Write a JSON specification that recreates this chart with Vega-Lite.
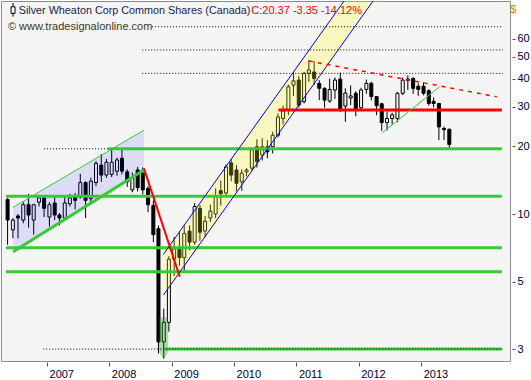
{
  "$schema": "https://vega.github.io/schema/vega-lite/v6.json",
  "width": 509,
  "height": 360,
  "autosize": {"type": "none"},
  "padding": {"left": 1, "top": 1, "right": 21, "bottom": 19},
  "background": "#ffffff",
  "config": {"view": {"fill": "#f5f5f5", "stroke": "#8c8c8c", "strokeWidth": 1}},
  "datasets": {
    "candles": [
      {"d":"2006-05-15","o":11.6,"h":11.8,"l":7.3,"c":9.4},
      {"d":"2006-06-15","o":8.5,"h":9.6,"l":7.8,"c":9.4},
      {"d":"2006-07-15","o":9.8,"h":10.0,"l":7.8,"c":9.6},
      {"d":"2006-08-15","o":9.4,"h":11.3,"l":9.1,"c":11.0},
      {"d":"2006-09-15","o":11.0,"h":12.3,"l":8.7,"c":9.9},
      {"d":"2006-10-15","o":9.4,"h":11.1,"l":8.1,"c":11.0},
      {"d":"2006-11-15","o":11.3,"h":12.0,"l":10.8,"c":11.8},
      {"d":"2006-12-15","o":11.8,"h":11.9,"l":9.7,"c":10.6},
      {"d":"2007-01-15","o":9.7,"h":11.3,"l":8.8,"c":11.0},
      {"d":"2007-02-15","o":11.2,"h":11.9,"l":9.4,"c":9.9},
      {"d":"2007-03-15","o":9.9,"h":10.1,"l":8.9,"c":9.6},
      {"d":"2007-04-15","o":9.6,"h":11.9,"l":9.4,"c":11.2},
      {"d":"2007-05-15","o":11.1,"h":12.3,"l":10.8,"c":11.8},
      {"d":"2007-06-15","o":12.0,"h":12.4,"l":10.5,"c":11.5},
      {"d":"2007-07-15","o":11.9,"h":15.1,"l":11.7,"c":13.8},
      {"d":"2007-08-15","o":13.8,"h":14.0,"l":9.6,"c":11.5},
      {"d":"2007-09-15","o":11.7,"h":14.5,"l":11.2,"c":14.0},
      {"d":"2007-10-15","o":13.8,"h":17.2,"l":13.3,"c":16.8},
      {"d":"2007-11-15","o":16.5,"h":18.5,"l":13.9,"c":14.9},
      {"d":"2007-12-15","o":14.9,"h":17.6,"l":14.5,"c":17.0},
      {"d":"2008-01-15","o":15.0,"h":19.3,"l":14.6,"c":17.0},
      {"d":"2008-02-15","o":15.5,"h":17.8,"l":14.8,"c":17.4},
      {"d":"2008-03-15","o":17.7,"h":19.6,"l":15.0,"c":15.5},
      {"d":"2008-04-15","o":15.4,"h":15.8,"l":13.2,"c":13.9},
      {"d":"2008-05-15","o":12.8,"h":15.3,"l":12.5,"c":14.5},
      {"d":"2008-06-15","o":15.7,"h":16.2,"l":12.6,"c":13.1},
      {"d":"2008-07-15","o":15.2,"h":16.1,"l":12.2,"c":12.8},
      {"d":"2008-08-15","o":13.0,"h":13.3,"l":10.2,"c":11.0},
      {"d":"2008-09-15","o":10.9,"h":11.5,"l":7.5,"c":8.1},
      {"d":"2008-10-15","o":8.6,"h":8.9,"l":2.4,"c":2.7},
      {"d":"2008-11-15","o":2.7,"h":3.8,"l":2.28,"c":3.3},
      {"d":"2008-12-15","o":3.3,"h":6.5,"l":3.0,"c":6.3},
      {"d":"2009-01-15","o":6.3,"h":7.9,"l":5.3,"c":7.0},
      {"d":"2009-02-15","o":7.0,"h":8.3,"l":5.9,"c":6.4},
      {"d":"2009-03-15","o":6.4,"h":8.9,"l":5.6,"c":8.2},
      {"d":"2009-04-15","o":8.4,"h":8.9,"l":6.9,"c":7.5},
      {"d":"2009-05-15","o":7.5,"h":11.2,"l":7.3,"c":10.8},
      {"d":"2009-06-15","o":10.6,"h":11.0,"l":7.6,"c":8.3},
      {"d":"2009-07-15","o":8.4,"h":9.8,"l":7.9,"c":9.3},
      {"d":"2009-08-15","o":9.6,"h":11.0,"l":9.2,"c":10.3},
      {"d":"2009-09-15","o":10.0,"h":13.0,"l":9.6,"c":12.0},
      {"d":"2009-10-15","o":12.7,"h":14.1,"l":10.9,"c":12.3},
      {"d":"2009-11-15","o":12.4,"h":16.6,"l":12.0,"c":16.2},
      {"d":"2009-12-15","o":16.9,"h":17.6,"l":14.0,"c":14.9},
      {"d":"2010-01-15","o":15.7,"h":16.5,"l":12.6,"c":13.7},
      {"d":"2010-02-15","o":13.9,"h":15.8,"l":12.7,"c":15.2},
      {"d":"2010-03-15","o":15.4,"h":16.0,"l":14.7,"c":15.7},
      {"d":"2010-04-15","o":16.0,"h":19.8,"l":15.6,"c":19.3},
      {"d":"2010-05-15","o":19.9,"h":21.5,"l":16.1,"c":17.1},
      {"d":"2010-06-15","o":18.3,"h":21.7,"l":17.3,"c":19.9},
      {"d":"2010-07-15","o":19.9,"h":21.3,"l":17.7,"c":18.9},
      {"d":"2010-08-15","o":19.9,"h":23.2,"l":18.6,"c":22.4},
      {"d":"2010-09-15","o":22.4,"h":28.0,"l":21.9,"c":27.0},
      {"d":"2010-10-15","o":26.6,"h":30.3,"l":25.0,"c":28.7},
      {"d":"2010-11-15","o":29.0,"h":37.6,"l":27.5,"c":36.8},
      {"d":"2010-12-15","o":37.4,"h":42.8,"l":33.5,"c":39.1},
      {"d":"2011-01-15","o":39.4,"h":41.0,"l":29.8,"c":30.5},
      {"d":"2011-02-15","o":31.6,"h":42.8,"l":31.0,"c":42.2},
      {"d":"2011-03-15","o":42.2,"h":48.4,"l":38.7,"c":43.7},
      {"d":"2011-04-15","o":42.8,"h":47.9,"l":37.5,"c":40.0},
      {"d":"2011-05-15","o":38.1,"h":39.4,"l":32.1,"c":36.2},
      {"d":"2011-06-15","o":36.2,"h":36.6,"l":29.7,"c":32.1},
      {"d":"2011-07-15","o":31.8,"h":40.0,"l":31.2,"c":35.8},
      {"d":"2011-08-15","o":35.6,"h":40.5,"l":32.5,"c":39.4},
      {"d":"2011-09-15","o":39.8,"h":42.5,"l":28.4,"c":29.0},
      {"d":"2011-10-15","o":30.2,"h":36.2,"l":25.7,"c":34.5},
      {"d":"2011-11-15","o":32.8,"h":37.3,"l":30.5,"c":33.5},
      {"d":"2011-12-15","o":34.4,"h":35.2,"l":27.2,"c":29.0},
      {"d":"2012-01-15","o":29.7,"h":36.4,"l":29.2,"c":35.6},
      {"d":"2012-02-15","o":35.8,"h":39.6,"l":34.2,"c":38.1},
      {"d":"2012-03-15","o":38.1,"h":38.8,"l":32.0,"c":33.3},
      {"d":"2012-04-15","o":33.3,"h":33.5,"l":27.5,"c":30.3},
      {"d":"2012-05-15","o":30.9,"h":31.2,"l":23.4,"c":25.5},
      {"d":"2012-06-15","o":25.5,"h":28.6,"l":23.5,"c":26.6},
      {"d":"2012-07-15","o":26.6,"h":28.2,"l":25.0,"c":27.6},
      {"d":"2012-08-15","o":26.6,"h":34.9,"l":25.6,"c":34.4},
      {"d":"2012-09-15","o":34.4,"h":40.4,"l":33.8,"c":39.4},
      {"d":"2012-10-15","o":39.8,"h":41.3,"l":35.6,"c":39.3},
      {"d":"2012-11-15","o":40.0,"h":40.7,"l":34.2,"c":36.2},
      {"d":"2012-12-15","o":37.0,"h":38.1,"l":33.5,"c":35.8},
      {"d":"2013-01-15","o":37.0,"h":38.5,"l":33.7,"c":34.4},
      {"d":"2013-02-15","o":35.3,"h":35.9,"l":30.3,"c":31.0},
      {"d":"2013-03-15","o":31.7,"h":33.0,"l":29.8,"c":31.0},
      {"d":"2013-04-15","o":31.0,"h":31.2,"l":21.3,"c":24.4},
      {"d":"2013-05-15","o":24.0,"h":24.5,"l":21.3,"c":23.72},
      {"d":"2013-06-15","o":23.8,"h":24.0,"l":19.6,"c":20.37}
    ],
    "greenLevels": [
      {"d":"2007-12-24","d2":"2014-04-19","p":19.5},
      {"d":"2006-05-06","d2":"2014-04-19","p":12.0},
      {"d":"2006-05-06","d2":"2014-04-19","p":7.08},
      {"d":"2006-05-06","d2":"2014-04-19","p":5.54},
      {"d":"2008-11-21","d2":"2014-04-19","p":2.51}
    ],
    "redLevels": [{"d":"2010-09-18","d2":"2014-04-19","p":29.0}],
    "dottedLevels": [
      {"d":"2008-09-08","d2":"2014-04-25","p":68.0},
      {"d":"2008-07-12","d2":"2014-04-25","p":53.6},
      {"d":"2008-07-12","d2":"2014-04-25","p":42.2},
      {"d":"2006-12-15","d2":"2007-12-24","p":19.5},
      {"d":"2006-12-10","d2":"2014-04-25","p":2.51}
    ],
    "blueChannel": [
      {"d":"2006-06-16","u":10.71,"lo":6.8},
      {"d":"2008-07-22","u":23.6,"lo":15.68}
    ],
    "blueChannelTop": [{"d":"2006-06-16","p":10.71,"d2":"2008-07-22","p2":23.6}],
    "blueChannelBottom": [{"d":"2006-06-16","p":6.8,"d2":"2008-07-22","p2":15.68}],
    "yellowChannel": [
      {"d":"2008-11-13","u":6.62,"lo":4.365},
      {"d":"2012-04-20","u":142.9,"lo":94.3}
    ],
    "yellowChannelLines": [
      {"d":"2008-11-13","p":6.62,"d2":"2012-04-20","p2":142.9},
      {"d":"2008-11-13","p":4.365,"d2":"2012-04-20","p2":94.3}
    ],
    "crashLine": [{"d":"2008-07-22","p":15.96,"d2":"2009-02-17","p2":5.26}],
    "downTrend": [{"d":"2011-03-15","p":47.9,"d2":"2014-03-20","p2":33.2}],
    "upTrend2012": [{"d":"2012-05-19","p":22.96,"d2":"2013-04-19","p2":36.8}],
    "lowMarker": [
      {"d":"2008-10-22","u":3.45,"lo":2.44},
      {"d":"2008-11-15","u":3.45,"lo":2.27},
      {"d":"2008-12-08","u":3.45,"lo":2.44}
    ]
  },
  "layer": [
    {
      "data": {"name": "candles"},
      "mark": {"type": "rule", "color": "#000000", "strokeWidth": 1},
      "encoding": {
        "x": {
          "field": "d", "type": "temporal", "title": null,
          "scale": {"type": "utc", "domain": [
            {"year": 2006, "month": 5, "date": 5, "hours": 18, "utc": true},
            {"year": 2014, "month": 5, "date": 7, "hours": 5, "utc": true}
          ]},
          "axis": {
            "values": [
              {"year": 2007, "month": 1, "date": 1, "utc": true},
              {"year": 2008, "month": 1, "date": 1, "utc": true},
              {"year": 2009, "month": 1, "date": 1, "utc": true},
              {"year": 2010, "month": 1, "date": 1, "utc": true},
              {"year": 2011, "month": 1, "date": 1, "utc": true},
              {"year": 2012, "month": 1, "date": 1, "utc": true},
              {"year": 2013, "month": 1, "date": 1, "utc": true}
            ],
            "labelExpr": "utcFormat(datum.value, '%Y')",
            "domain": false, "grid": false,
            "tickSize": 4, "tickColor": "#555555", "offset": 1,
            "labelAlign": "left", "labelBaseline": "top", "labelPadding": 2, "labelOffset": 2,
            "labelFont": "Liberation Sans", "labelFontSize": 11, "labelColor": "#000033",
            "labelFlush": false, "labelOverlap": false
          }
        },
        "y": {
          "field": "l", "type": "quantitative", "title": null,
          "scale": {"type": "log", "domain": [2.222, 88.5], "nice": false, "zero": false},
          "axis": {
            "orient": "right",
            "values": [2.5, 5, 10, 20, 30, 40, 50, 60],
            "labelExpr": "datum.value < 3 ? '3' : format(datum.value, 'd')",
            "domain": false, "grid": false,
            "tickSize": 3, "tickColor": "#555555", "offset": 2, "labelPadding": 2,
            "labelFont": "Liberation Sans", "labelFontSize": 11, "labelColor": "#000033",
            "labelBaseline": "middle", "labelFlush": false, "labelOverlap": false
          }
        },
        "y2": {"field": "h"}
      }
    },
    {
      "data": {"name": "candles"},
      "mark": {"type": "bar", "width": 3, "stroke": "#000000", "strokeWidth": 1},
      "encoding": {
        "x": {"field": "d", "type": "temporal", "title": null},
        "y": {"field": "o", "type": "quantitative", "title": null},
        "y2": {"field": "c"},
        "fill": {"condition": {"test": "datum.c >= datum.o", "value": "#f5f5f5"}, "value": "#000000"}
      }
    },
    {
      "data": {"name": "blueChannel"},
      "mark": {"type": "area", "color": "#0000ff", "opacity": 0.1, "clip": true},
      "encoding": {
        "x": {"field": "d", "type": "temporal", "title": null},
        "y": {"field": "u", "type": "quantitative", "title": null},
        "y2": {"field": "lo"}
      }
    },
    {
      "data": {"name": "yellowChannel"},
      "mark": {"type": "area", "color": "#ffff00", "opacity": 0.22, "clip": true},
      "encoding": {
        "x": {"field": "d", "type": "temporal", "title": null},
        "y": {"field": "u", "type": "quantitative", "title": null},
        "y2": {"field": "lo"}
      }
    },
    {
      "data": {"name": "lowMarker"},
      "mark": {"type": "area", "color": "#00a000", "opacity": 0.3, "stroke": "#2e7d2e", "strokeWidth": 1},
      "encoding": {
        "x": {"field": "d", "type": "temporal", "title": null},
        "y": {"field": "u", "type": "quantitative", "title": null},
        "y2": {"field": "lo"}
      }
    },
    {
      "data": {"name": "greenLevels"},
      "mark": {"type": "rule", "color": "#33cc33", "strokeWidth": 3},
      "encoding": {
        "x": {"field": "d", "type": "temporal", "title": null},
        "x2": {"field": "d2"},
        "y": {"field": "p", "type": "quantitative", "title": null}
      }
    },
    {
      "data": {"name": "redLevels"},
      "mark": {"type": "rule", "color": "#ff0000", "strokeWidth": 3},
      "encoding": {
        "x": {"field": "d", "type": "temporal", "title": null},
        "x2": {"field": "d2"},
        "y": {"field": "p", "type": "quantitative", "title": null}
      }
    },
    {
      "data": {"name": "dottedLevels"},
      "mark": {"type": "rule", "color": "#000000", "strokeWidth": 1, "strokeDash": [1, 2]},
      "encoding": {
        "x": {"field": "d", "type": "temporal", "title": null},
        "x2": {"field": "d2"},
        "y": {"field": "p", "type": "quantitative", "title": null}
      }
    },
    {
      "data": {"name": "blueChannelTop"},
      "mark": {"type": "rule", "color": "#33cc33", "strokeWidth": 1},
      "encoding": {
        "x": {"field": "d", "type": "temporal", "title": null},
        "x2": {"field": "d2"},
        "y": {"field": "p", "type": "quantitative", "title": null},
        "y2": {"field": "p2"}
      }
    },
    {
      "data": {"name": "blueChannelBottom"},
      "mark": {"type": "rule", "color": "#33cc33", "strokeWidth": 3},
      "encoding": {
        "x": {"field": "d", "type": "temporal", "title": null},
        "x2": {"field": "d2"},
        "y": {"field": "p", "type": "quantitative", "title": null},
        "y2": {"field": "p2"}
      }
    },
    {
      "data": {"name": "yellowChannelLines"},
      "mark": {"type": "rule", "color": "#0000ff", "strokeWidth": 1, "clip": true},
      "encoding": {
        "x": {"field": "d", "type": "temporal", "title": null},
        "x2": {"field": "d2"},
        "y": {"field": "p", "type": "quantitative", "title": null},
        "y2": {"field": "p2"}
      }
    },
    {
      "data": {"name": "crashLine"},
      "mark": {"type": "rule", "color": "#ff0000", "strokeWidth": 2},
      "encoding": {
        "x": {"field": "d", "type": "temporal", "title": null},
        "x2": {"field": "d2"},
        "y": {"field": "p", "type": "quantitative", "title": null},
        "y2": {"field": "p2"}
      }
    },
    {
      "data": {"name": "downTrend"},
      "mark": {"type": "rule", "color": "#ff0000", "strokeWidth": 1.5, "strokeDash": [4, 5]},
      "encoding": {
        "x": {"field": "d", "type": "temporal", "title": null},
        "x2": {"field": "d2"},
        "y": {"field": "p", "type": "quantitative", "title": null},
        "y2": {"field": "p2"}
      }
    },
    {
      "data": {"name": "upTrend2012"},
      "mark": {"type": "rule", "color": "#33cc33", "strokeWidth": 1},
      "encoding": {
        "x": {"field": "d", "type": "temporal", "title": null},
        "x2": {"field": "d2"},
        "y": {"field": "p", "type": "quantitative", "title": null},
        "y2": {"field": "p2"}
      }
    },
    {
      "data": {"values": [{}]},
      "mark": {"type": "rule", "color": "#000000", "strokeWidth": 1},
      "encoding": {
        "x": {"datum": {"year": 2006, "month": 6, "date": 16, "utc": true}, "type": "temporal", "title": null},
        "y": {"datum": 86.7, "type": "quantitative", "title": null},
        "y2": {"datum": 75.4}
      }
    },
    {
      "data": {"values": [{}]},
      "mark": {"type": "bar", "width": 4, "fill": "#ffffff", "stroke": "#000000", "strokeWidth": 1},
      "encoding": {
        "x": {"datum": {"year": 2006, "month": 6, "date": 16, "utc": true}, "type": "temporal", "title": null},
        "y": {"datum": 83.4, "type": "quantitative", "title": null},
        "y2": {"datum": 78.0}
      }
    },
    {
      "data": {"values": [{"t": "Silver Wheaton Corp Common Shares (Canada)"}]},
      "mark": {"type": "text", "align": "left", "baseline": "alphabetic", "font": "Liberation Sans", "fontSize": 10.8, "color": "#1a1a50"},
      "encoding": {
        "x": {"datum": {"year": 2006, "month": 7, "date": 19, "utc": true}, "type": "temporal", "title": null},
        "y": {"datum": 77.4, "type": "quantitative", "title": null},
        "text": {"field": "t"}
      }
    },
    {
      "data": {"values": [{"t": "C:20.37 -3.35 -14.12%"}]},
      "mark": {"type": "text", "align": "left", "baseline": "alphabetic", "font": "Liberation Sans", "fontSize": 11, "color": "#ff0000"},
      "encoding": {
        "x": {"datum": {"year": 2010, "month": 4, "date": 12, "utc": true}, "type": "temporal", "title": null},
        "y": {"datum": 77.4, "type": "quantitative", "title": null},
        "text": {"field": "t"}
      }
    },
    {
      "data": {"values": [{"t": "© www.tradesignalonline.com"}]},
      "mark": {"type": "text", "align": "left", "baseline": "alphabetic", "font": "Liberation Sans", "fontSize": 11, "color": "#3a3a20"},
      "encoding": {
        "x": {"datum": {"year": 2006, "month": 5, "date": 17, "utc": true}, "type": "temporal", "title": null},
        "y": {"datum": 66.1, "type": "quantitative", "title": null},
        "text": {"field": "t"}
      }
    },
    {
      "data": {"values": [{"t": "$"}]},
      "mark": {"type": "text", "align": "center", "baseline": "middle", "font": "Liberation Sans", "fontSize": 11, "color": "#cc8800"},
      "encoding": {
        "x": {"datum": {"year": 2014, "month": 6, "date": 25, "utc": true}, "type": "temporal", "title": null},
        "y": {"datum": 80.6, "type": "quantitative", "title": null},
        "text": {"field": "t"}
      }
    }
  ]
}
